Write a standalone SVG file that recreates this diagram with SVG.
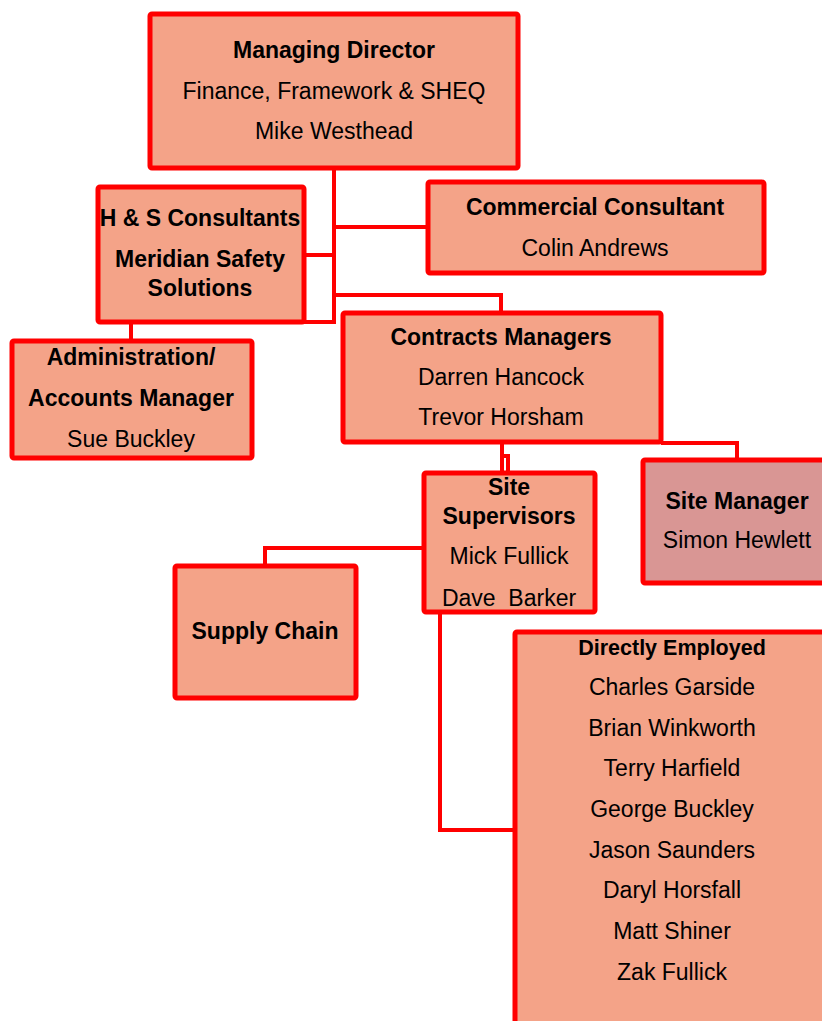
<svg xmlns="http://www.w3.org/2000/svg" width="822" height="1021" viewBox="0 0 822 1021">
<style>
.box{fill:#F4A388;stroke:#FF0000;stroke-width:5}
.sm{fill:#D99694}
.c{fill:none;stroke:#FF0000;stroke-width:4}
text{font-family:"Liberation Sans",Arial,sans-serif;font-size:23px;text-anchor:middle;fill:#000}
.b{font-weight:bold}
</style>
<rect width="822" height="1021" fill="#fff"/>
<g id="connectors">
<path class="c" d="M334 168V322H304M304 255H334M334 227H427M334 295H501V312"/>
<path class="c" d="M131 322V340"/>
<path class="c" d="M502 442V456H508V472M502 456V472"/>
<path class="c" d="M661 443H737V459"/>
<path class="c" d="M423 548H265V565"/>
<path class="c" d="M440 612V830H514"/>
</g>
<g id="managing-director">
<rect class="box" x="150" y="14" width="368" height="154" rx="2"/>
<text class="b" x="334" y="58">Managing Director</text>
<text x="334" y="99">Finance, Framework &amp; SHEQ</text>
<text x="334" y="139">Mike Westhead</text>
</g>
<g id="hs-consultants">
<rect class="box" x="98" y="187" width="206" height="135" rx="2"/>
<text class="b" x="200" y="226">H &amp; S Consultants</text>
<text class="b" x="200" y="267">Meridian Safety</text>
<text class="b" x="200" y="296">Solutions</text>
</g>
<g id="commercial-consultant">
<rect class="box" x="428" y="182" width="336" height="91" rx="2"/>
<text class="b" x="595" y="215">Commercial Consultant</text>
<text x="595" y="256">Colin Andrews</text>
</g>
<g id="contracts-managers">
<rect class="box" x="343" y="313" width="318" height="129" rx="2"/>
<text class="b" x="501" y="345">Contracts Managers</text>
<text x="501" y="385">Darren Hancock</text>
<text x="501" y="425">Trevor Horsham</text>
</g>
<g id="admin-accounts">
<rect class="box" x="12" y="341" width="240" height="117" rx="2"/>
<text class="b" x="131" y="365">Administration/</text>
<text class="b" x="131" y="406">Accounts Manager</text>
<text x="131" y="447">Sue Buckley</text>
</g>
<g id="site-supervisors">
<rect class="box" x="424" y="473" width="171" height="139" rx="2"/>
<text class="b" x="509" y="495">Site</text>
<text class="b" x="509" y="524">Supervisors</text>
<text x="509" y="564">Mick Fullick</text>
<text x="509" y="606" xml:space="preserve">Dave  Barker</text>
</g>
<g id="site-manager">
<rect class="box sm" x="643" y="460" width="184" height="123" rx="2"/>
<text class="b" x="737" y="509">Site Manager</text>
<text x="737" y="548">Simon Hewlett</text>
</g>
<g id="supply-chain">
<rect class="box" x="175" y="566" width="181" height="132" rx="2"/>
<text class="b" x="265" y="639">Supply Chain</text>
</g>
<g id="directly-employed">
<rect class="box" x="515" y="632" width="312" height="400" rx="2"/>
<text class="b" x="672" y="655" style="font-size:21.5px">Directly Employed</text>
<text x="672" y="695">Charles Garside</text>
<text x="672" y="736">Brian Winkworth</text>
<text x="672" y="776">Terry Harfield</text>
<text x="672" y="817">George Buckley</text>
<text x="672" y="858">Jason Saunders</text>
<text x="672" y="898">Daryl Horsfall</text>
<text x="672" y="939">Matt Shiner</text>
<text x="672" y="980">Zak Fullick</text>
</g>
</svg>
